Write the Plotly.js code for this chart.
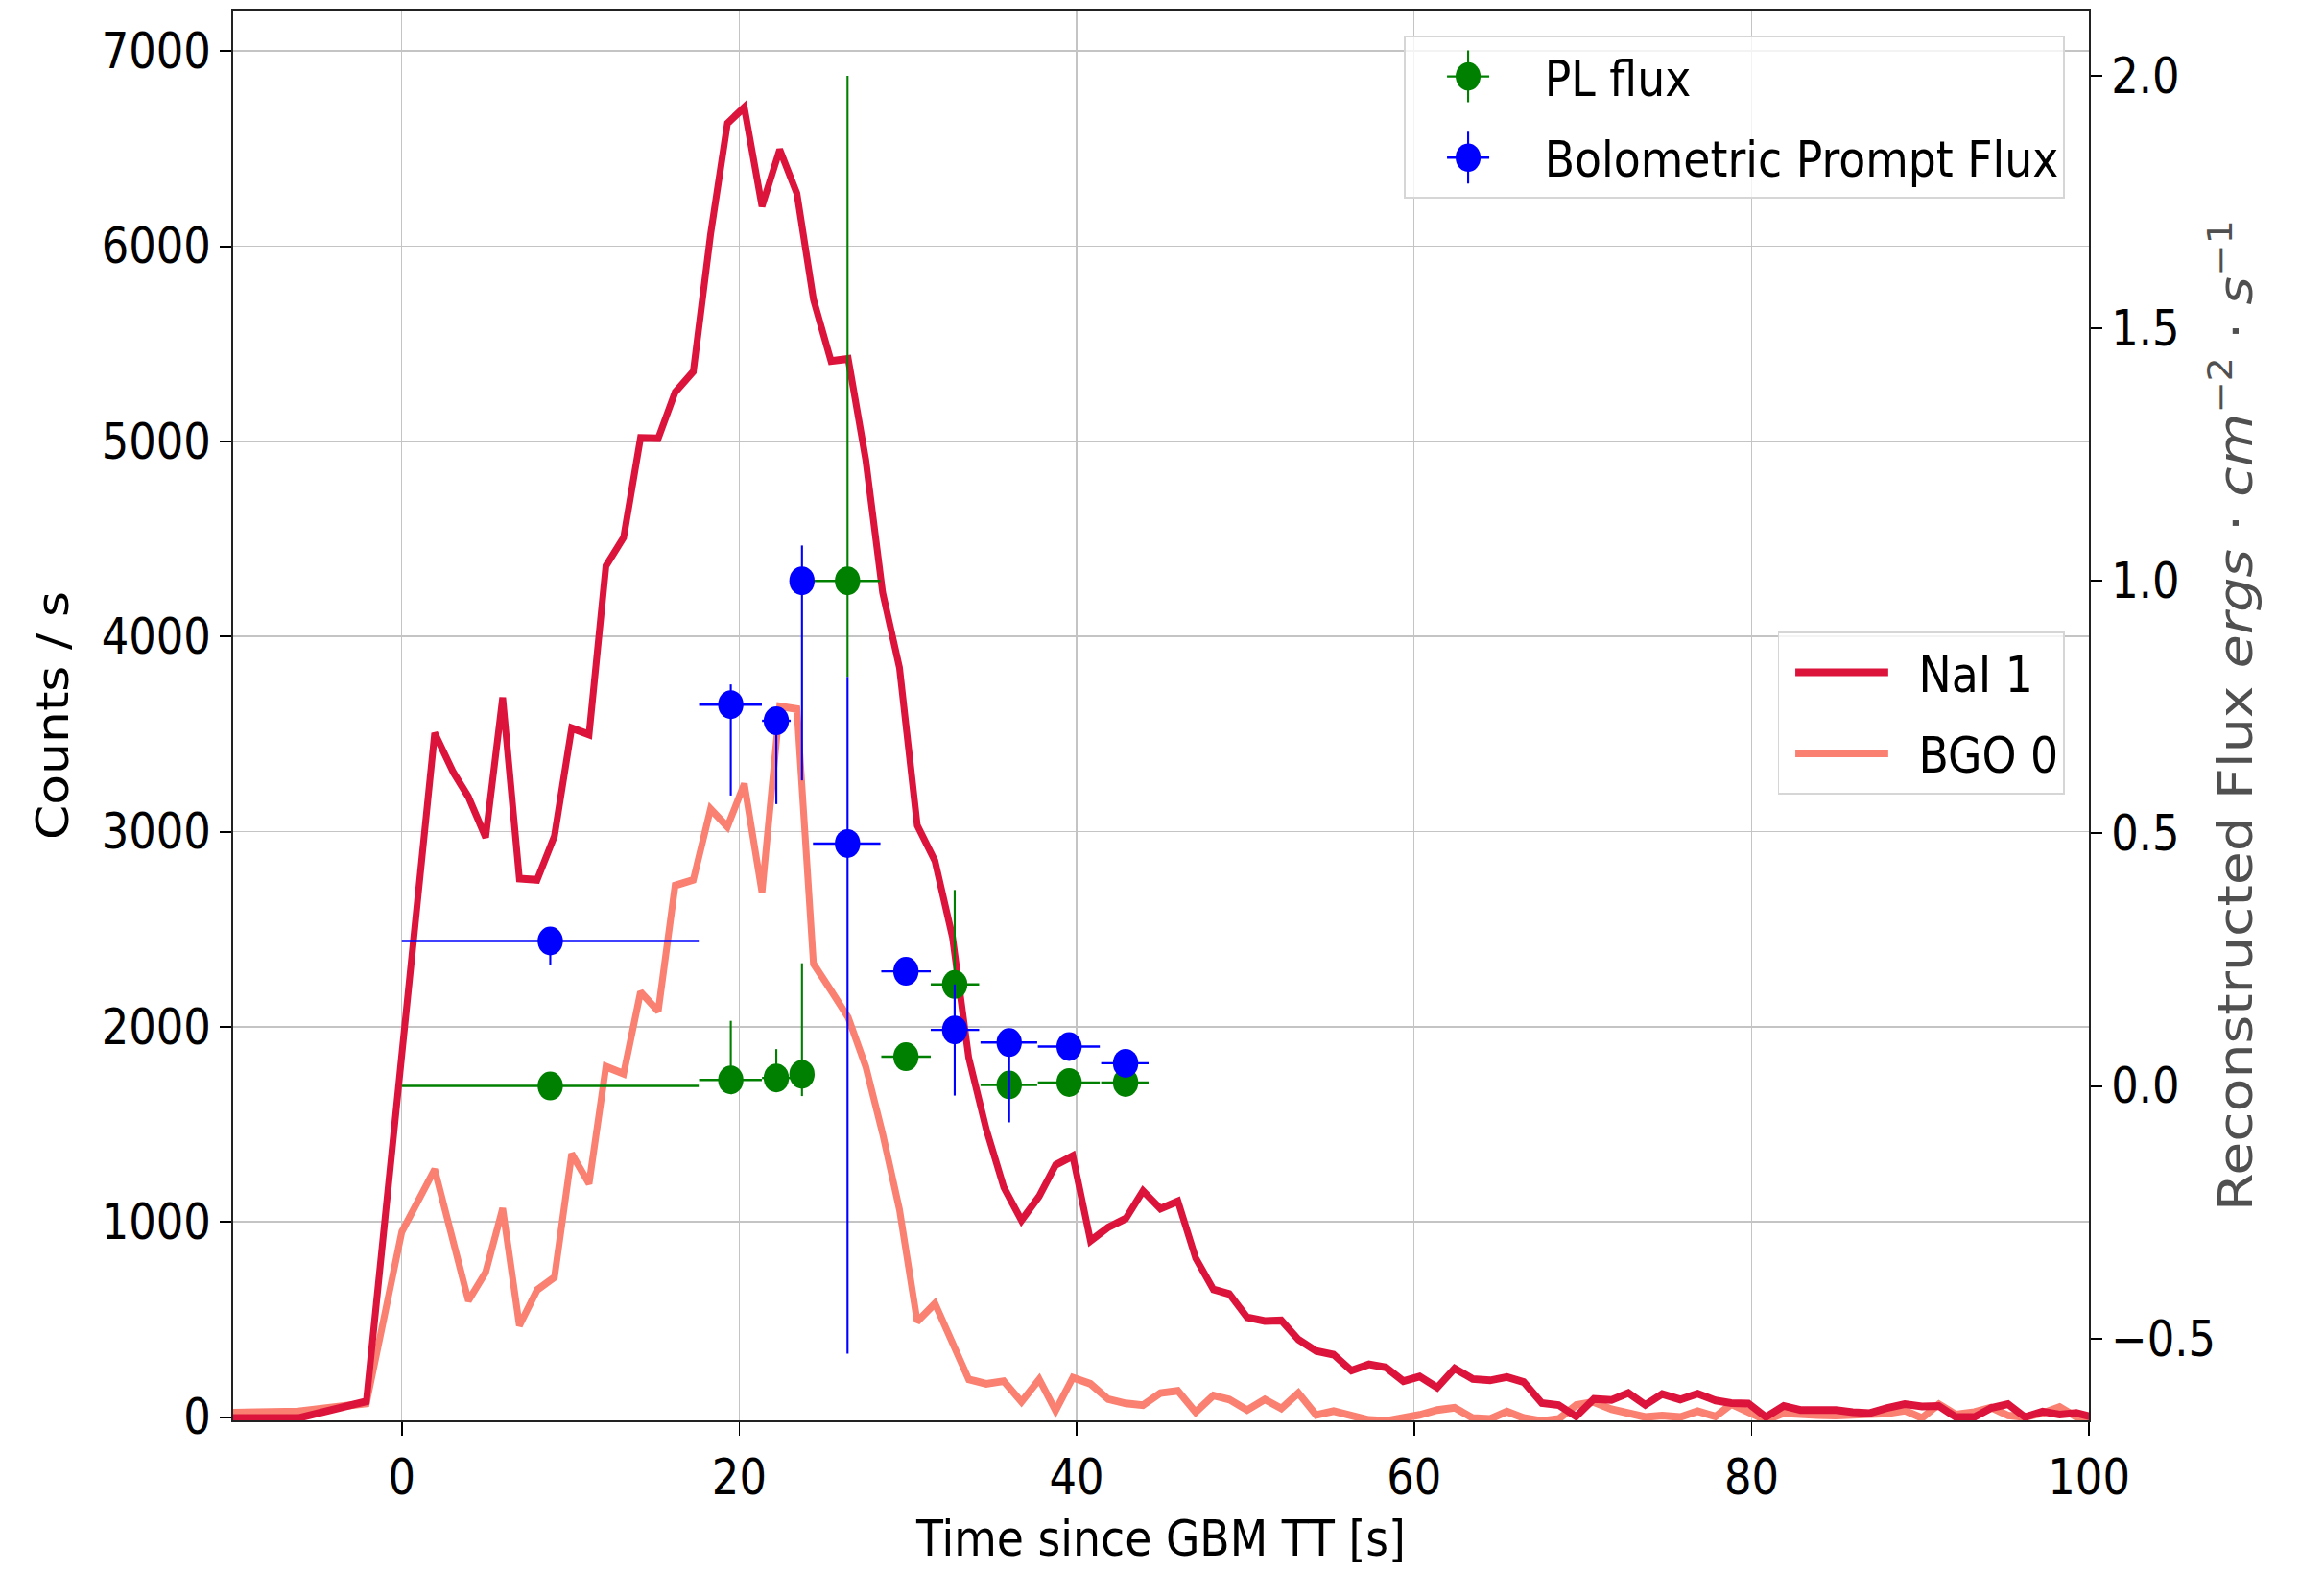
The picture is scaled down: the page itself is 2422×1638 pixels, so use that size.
<!DOCTYPE html>
<html>
<head>
<meta charset="utf-8">
<script src="https://cdn.plot.ly/plotly-3.0.1.min.js"></script>
<style>
  html, body { margin:0; padding:0; background:#fff; overflow:hidden; }
  #wrap { width:2422px; height:1638px; overflow:hidden; position:relative; }
  #plot { width:2752px; height:1638px; transform:scaleX(0.88); transform-origin:0 0; }
</style>
</head>
<body>
<div id="wrap"><div id="plot"></div></div>
<script>
// ---- light-curve data (time since GBM trigger, s) ----
const time = [-10.24, -6.14, -2.1, 0.0, 1.95, 3.05, 3.95, 4.97, 5.98, 6.97,
  8.02, 9.05, 10.07, 11.1, 12.1, 13.15, 14.15, 15.2, 16.2, 17.28,
  18.3, 19.3, 20.3, 21.35, 22.4, 23.42, 24.4, 25.44, 26.46, 27.5,
  28.5, 29.5, 30.55, 31.6, 32.64, 33.6, 34.64, 35.68, 36.73, 37.78,
  38.75, 39.77, 40.82, 41.86, 42.91, 43.93, 44.96, 46.0, 47.05, 48.1,
  49.05, 50.1, 51.15, 52.13, 53.14, 54.19, 55.23, 56.28, 57.32, 58.33,
  59.36, 60.33, 61.37, 62.4, 63.47, 64.5, 65.5, 66.5, 67.56, 68.57,
  69.6, 70.65, 71.7, 72.7, 73.7, 74.7, 75.77, 76.8, 77.86, 78.8,
  79.82, 80.85, 81.9, 82.9, 83.9, 85.0, 86.0, 87.0, 88.03, 89.08,
  90.1, 91.1, 92.1, 93.2, 94.2, 95.2, 96.2, 97.25, 98.26, 99.25, 100.2];

const naiCounts = [-5, -5, 80, 1815, 3505, 3305, 3178, 2971, 3687, 2760,
  2753, 2978, 3531, 3498, 4362, 4508, 5018, 5016, 5252, 5358,
  6060, 6630, 6712, 6205, 6495, 6270, 5728, 5412, 5423, 4905,
  4225, 3840, 3033, 2850, 2460, 1842, 1475, 1178, 1008, 1132,
  1292, 1338, 903, 972, 1017, 1159, 1068, 1106, 815, 654,
  631, 511, 492, 495, 397, 339, 320, 238, 270, 254,
  184, 208, 151, 249, 195, 188, 205, 179, 72, 61,
  3, 93, 88, 123, 62, 118, 90, 120, 85, 72,
  69, 0, 57, 36, 38, 36, 25, 20, 46, 66,
  54, 57, 0, 0, 46, 66, 0, 28, 13, 21, 0];

const bgoCounts = [22, 29, 70, 949, 1269, 880, 596, 742, 1069, 469,
  651, 716, 1349, 1196, 1796, 1760, 2178, 2080, 2724, 2753,
  3116, 3025, 3245, 2689, 3642, 3628, 2323, 2186, 2048, 1796,
  1452, 1063, 490, 582, 376, 193, 170, 184, 78, 193,
  33, 202, 170, 92, 70, 61, 123, 134, 25, 110,
  90, 36, 90, 44, 123, 11, 31, 8, -15, -20,
  -8, 11, 36, 48, -5, -10, 28, -5, -20, -10,
  61, 77, 40, 20, 0, 7, 0, 30, 3, 66,
  20, -16, 20, 12, 10, 8, 12, 10, 18, 33,
  -5, 66, 13, 25, 49, 8, 0, 20, 52, 0, 3];

// ---- reconstructed flux points (erg cm^-2 s^-1) ----
const fluxTime      = [8.8, 19.5, 22.2, 23.72, 26.42, 29.88, 32.77, 36.0, 39.55, 42.9];
const timeErrMinus  = [8.8, 1.88, 0.85, 0.67, 2.05, 1.46, 1.42, 1.7, 1.85, 1.45];
const timeErrPlus   = [8.8, 1.84, 0.85, 0.67, 1.95, 1.47, 1.45, 1.66, 1.82, 1.36];
const plFlux        = [0.0, 0.012, 0.016, 0.023, 1.0, 0.058, 0.201, 0.002, 0.007, 0.007];
const plErrPlus     = [0.004, 0.117, 0.057, 0.22, 1.0, 0.005, 0.187, 0.005, 0.005, 0.005];
const plErrMinus    = [0.004, 0.024, 0.026, 0.043, 0.19, 0.005, 0.1, 0.005, 0.005, 0.005];
const bolFlux       = [0.287, 0.755, 0.723, 1.0, 0.48, 0.227, 0.111, 0.086, 0.078, 0.045];
const bolErrPlus    = [0.02, 0.04, 0.02, 0.07, 0.33, 0.01, 0.09, 0.026, 0.01, 0.01];
const bolErrMinus   = [0.048, 0.18, 0.165, 0.395, 1.01, 0.01, 0.13, 0.158, 0.01, 0.01];

// ---- ticks ----
const xTicks = [0, 20, 40, 60, 80, 100];
const countTicks = [0, 1000, 2000, 3000, 4000, 5000, 6000, 7000];
const fluxTicks = [-0.5, 0.0, 0.5, 1.0, 1.5, 2.0];
const fluxTickText = ['\u22120.5', '0.0', '0.5', '1.0', '1.5', '2.0'];

const FONT = 'DejaVu Sans, Verdana, sans-serif';

function errTrace(name, y, yPlus, yMinus, color, legendrank) {
  return {
    type: 'scatter', mode: 'markers', name: name,
    x: fluxTime, y: y, yaxis: 'y2', legend: 'legend', legendgroup: name, legendrank: legendrank,
    marker: { color: color, size: 30, symbol: 'circle' },
    error_x: { type: 'data', symmetric: false, array: timeErrPlus, arrayminus: timeErrMinus,
               color: color, thickness: 2.4, width: 0 },
    error_y: { type: 'data', symmetric: false, array: yPlus, arrayminus: yMinus,
               color: color, thickness: 2.4, width: 0 },
    hoverinfo: 'skip'
  };
}

const data = [
  { type: 'scatter', mode: 'lines', name: 'BGO 0', x: time, y: bgoCounts,
    line: { color: '#FA8072', width: 8 }, legend: 'legend2', legendgroup: 'bgo', legendrank: 2 },
  { type: 'scatter', mode: 'lines', name: 'NaI 1', x: time, y: naiCounts,
    line: { color: '#DC143C', width: 8 }, legend: 'legend2', legendgroup: 'nai', legendrank: 1 },
  errTrace('PL flux', plFlux, plErrPlus, plErrMinus, '#008000', 1),
  errTrace('Bolometric Prompt Flux', bolFlux, bolErrPlus, bolErrMinus, '#0000FF', 2)
];

const axisCommon = {
  ticks: 'outside', ticklen: 14, tickwidth: 2, tickcolor: '#000',
  showline: true, linecolor: '#222', linewidth: 2,
  zeroline: false, tickfont: { family: FONT, size: 51, color: '#000' }
};

const layout = {
  width: 2752, height: 1638,
  margin: { l: 276, r: 278, t: 11, b: 158 },
  paper_bgcolor: '#fff', plot_bgcolor: '#fff',
  font: { family: FONT, size: 52, color: '#000' },
  showlegend: true,
  xaxis: Object.assign({}, axisCommon, {
    range: [-10, 100], tickvals: xTicks, mirror: true,
    showgrid: true, gridcolor: '#c4c4c4', gridwidth: 1.6,
    title: { text: 'Time since GBM TT [s]', standoff: 16, font: { family: FONT, size: 52, color: '#000' } }
  }),
  yaxis: Object.assign({}, axisCommon, {
    range: [-17, 7208], tickvals: countTicks,
    showgrid: true, gridcolor: '#c4c4c4', gridwidth: 1.6,
    title: { text: 'Counts / s', standoff: 22, font: { family: FONT, size: 52, color: '#000' } }
  }),
  yaxis2: Object.assign({}, axisCommon, {
    overlaying: 'y', side: 'right', anchor: 'x',
    range: [-0.662, 2.129], tickvals: fluxTicks, ticktext: fluxTickText,
    showgrid: false,
    title: { text: 'Reconstructed Flux <i>ergs</i> \u00b7 <i>cm</i><sup>\u22122</sup> \u00b7 <i>s</i><sup>\u22121</sup>',
             standoff: 4, font: { family: FONT, size: 57, color: '#505050' } }
  }),
  legend: {
    x: 0.9869, xanchor: 'right', y: 0.9821, yanchor: 'top',
    bgcolor: 'rgba(255,255,255,0.8)', bordercolor: '#d6d6d6', borderwidth: 2,
    font: { family: FONT, size: 52, color: '#000' },
    traceorder: 'grouped', tracegroupgap: 14, itemwidth: 155
  },
  legend2: {
    x: 0.9869, xanchor: 'right', y: 0.5595, yanchor: 'top',
    bgcolor: 'rgba(255,255,255,0.8)', bordercolor: '#d6d6d6', borderwidth: 2,
    font: { family: FONT, size: 52, color: '#000' },
    traceorder: 'grouped', tracegroupgap: 14, itemwidth: 155
  }
};

Plotly.newPlot('plot', data, layout, { staticPlot: true, displayModeBar: false }).then(function () {
  const SVGNS = 'http://www.w3.org/2000/svg';
  // legend markers: enlarge and add the error-bar cross, as in an errorbar legend handle
  document.querySelectorAll('#plot .legend path.scatterpts').forEach(function (p) {
    const tr = p.getAttribute('transform') || '';
    const m = /translate\(\s*([-\d.]+)[\s,]*([-\d.]*)\s*\)/.exec(tr);
    let cx = m ? parseFloat(m[1]) : 20;
    const cy = (m && m[2] !== '') ? parseFloat(m[2]) : 0;
    cx = cx - 8;
    const color = p.style.fill || window.getComputedStyle(p).fill;
    p.setAttribute('transform', 'translate(' + cx + ',' + cy + ') scale(1.85)');
    const parent = p.parentNode;
    [[cx - 25, cy, cx + 25, cy], [cx, cy - 27, cx, cy + 27]].forEach(function (c) {
      const l = document.createElementNS(SVGNS, 'line');
      l.setAttribute('x1', c[0]); l.setAttribute('y1', c[1]);
      l.setAttribute('x2', c[2]); l.setAttribute('y2', c[3]);
      l.setAttribute('stroke', color); l.setAttribute('stroke-width', '2.4');
      parent.insertBefore(l, p);
    });
  });
  // legend lines: shorter sample with a gap before the label
  document.querySelectorAll('#plot .legendlines path').forEach(function (p) {
    p.setAttribute('d', 'M19,0h110');
  });
});
</script>
</body>
</html>
